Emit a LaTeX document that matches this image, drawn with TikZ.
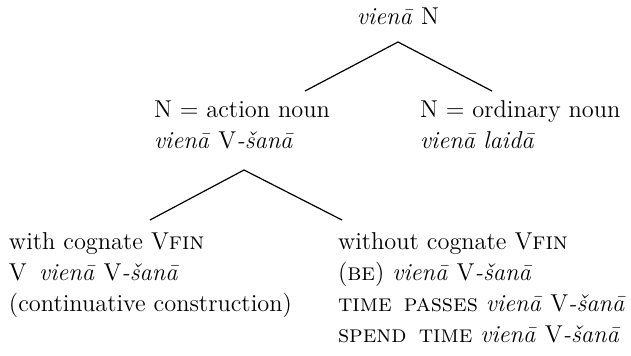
\documentclass[tikz,border=0pt]{standalone}
\begin{document}
\begin{tikzpicture}[x=0.5pt,y=-0.5pt,
  txt/.style={inner sep=0pt, outer sep=0pt, align=left, font=\fontsize{12.2}{15.5}\selectfont},
  branch/.style={line width=0.6pt}]
\useasboundingbox (0,0) rectangle (631,355);
% nodes (anchored at the baseline of their last line)
\node[txt, anchor=base] (root) at (398,24) {\textit{vienā} N};
\node[txt, anchor=base west] (act) at (154,148) {N = action noun\\\textit{vienā} V\textit{-šanā}};
\node[txt, anchor=base west] (ord) at (420,148) {N = ordinary noun\\\textit{vienā laidā}};
\node[txt, anchor=base west] (with) at (9,311) {with cognate V\textsc{fin}\\V\enspace\textit{vienā} V\textit{-šanā}\\(continuative construction)};
\node[txt, anchor=base west] (without) at (338,342) {without cognate V\textsc{fin}\\(\textsc{be}) \textit{vienā} V\textit{-šanā}\\\textsc{time}\enspace\textsc{passes} \textit{vienā} V\textit{-šanā}\\\textsc{spend}\enspace\textsc{time} \textit{vienā} V\textit{-šanā}};
% branch points
\coordinate (rootb) at (398,42);
\coordinate (actt) at (305,91);
\coordinate (ordt) at (492,91);
\coordinate (actb) at (244,170);
\coordinate (witht) at (150,220);
\coordinate (withoutt) at (342,220);
% connectors
\draw[branch] (actt) -- (rootb) -- (ordt);
\draw[branch] (witht) -- (actb) -- (withoutt);
\end{tikzpicture}
\end{document}
